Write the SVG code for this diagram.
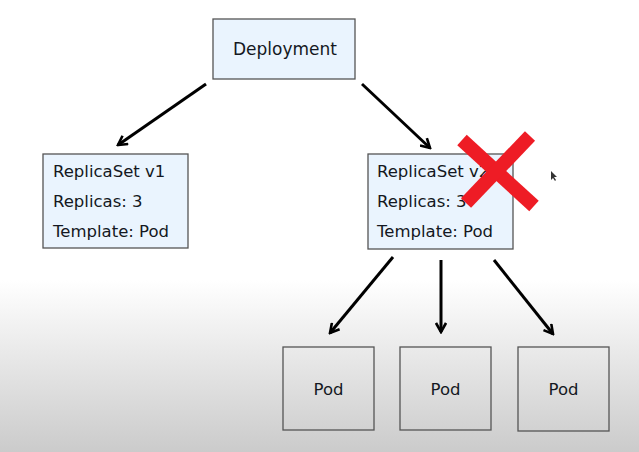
<svg xmlns="http://www.w3.org/2000/svg" width="639" height="452" viewBox="0 0 639 452">
<defs>
<linearGradient id="bg" x1="0" y1="0" x2="0" y2="452" gradientUnits="userSpaceOnUse">
<stop offset="0" stop-color="#ffffff"/>
<stop offset="0.62" stop-color="#ffffff"/>
<stop offset="1" stop-color="#cbcbcb"/>
</linearGradient>
<marker id="arr" viewBox="0 0 12 12" refX="10" refY="6" markerWidth="12" markerHeight="12" markerUnits="userSpaceOnUse" orient="auto">
<path d="M1,1 L10,6 L1,11" fill="none" stroke="#000" stroke-width="2.6"/>
</marker>
<style>
.rs{fill:#eaf4fe;stroke:#555;stroke-width:1.3}
.pod{fill:none;stroke:#555;stroke-width:1.3}
.t{font-family:"DejaVu Sans",Verdana,sans-serif;font-size:16.5px;fill:#141822}
.c{text-anchor:middle}
.ln{stroke:#000;stroke-width:3;fill:none;marker-end:url(#arr)}
</style>
</defs>
<rect x="0" y="0" width="639" height="452" fill="url(#bg)"/>
<g id="deployment">
<rect class="rs" x="213" y="19" width="142" height="60"/>
<text class="t c" x="285" y="55" style="font-size:17px">Deployment</text>
</g>
<g id="replicaset-v1">
<rect class="rs" x="43" y="154" width="145" height="94"/>
<text class="t" x="53" y="177">ReplicaSet v1</text>
<text class="t" x="53" y="207">Replicas: 3</text>
<text class="t" x="53" y="237">Template: Pod</text>
</g>
<g id="replicaset-v2">
<rect class="rs" x="368" y="154" width="145" height="95"/>
<text class="t" x="377" y="177">ReplicaSet v2</text>
<text class="t" x="377" y="207">Replicas: 3</text>
<text class="t" x="377" y="237">Template: Pod</text>
</g>
<g id="pod1">
<rect class="pod" x="283" y="347" width="91" height="83"/>
<text class="t c" x="328.5" y="395">Pod</text>
</g>
<g id="pod2">
<rect class="pod" x="400" y="347" width="91" height="83"/>
<text class="t c" x="445.5" y="395">Pod</text>
</g>
<g id="pod3">
<rect class="pod" x="518" y="347" width="91" height="84"/>
<text class="t c" x="563.5" y="395">Pod</text>
</g>
<g id="connectors">
<line class="ln" x1="206" y1="84" x2="118" y2="145"/>
<line class="ln" x1="362" y1="84" x2="430" y2="148"/>
<line class="ln" x1="393" y1="257" x2="330" y2="333"/>
<line class="ln" x1="441" y1="260" x2="441" y2="332"/>
<line class="ln" x1="494" y1="260" x2="553" y2="334"/>
</g>
<g id="cross">
<line x1="462" y1="140" x2="534" y2="206" stroke="#ee1c25" stroke-width="14"/>
<line x1="530" y1="136" x2="466" y2="203" stroke="#ee1c25" stroke-width="14"/>
</g>
<path d="M551,171 L551,180 L553,178 L555,181 L556,180 L554,177 L557,177 Z" fill="#333"/>
</svg>
